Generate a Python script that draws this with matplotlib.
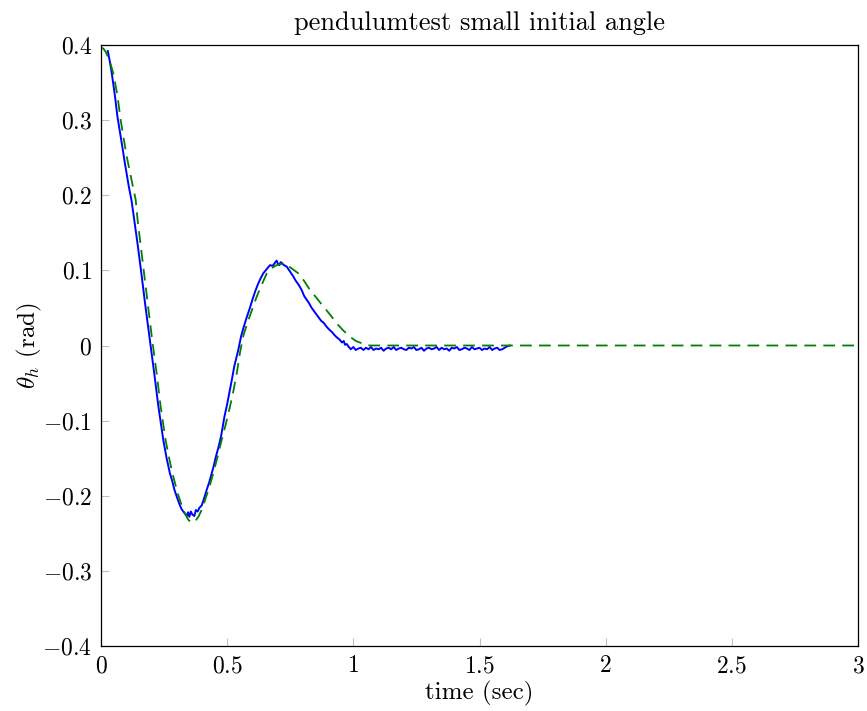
import matplotlib
matplotlib.use('Agg')
import matplotlib.pyplot as plt
from matplotlib.ticker import FuncFormatter

plt.rcParams['font.family'] = 'cmr10'
plt.rcParams['mathtext.fontset'] = 'cm'
plt.rcParams['axes.unicode_minus'] = False

# measured pendulum angle (blue)
t_meas = [0.027, 0.035, 0.042, 0.055, 0.065, 0.08, 0.095, 0.11, 0.1215, 0.132, 0.145,
          0.16, 0.175, 0.194, 0.211, 0.227, 0.247, 0.26, 0.273, 0.282, 0.291, 0.302,
          0.313, 0.32, 0.326, 0.333, 0.34, 0.345, 0.35, 0.356, 0.362, 0.37, 0.376,
          0.383, 0.39, 0.399, 0.409, 0.419, 0.429, 0.439, 0.447, 0.4545, 0.465, 0.4756,
          0.482, 0.489, 0.5, 0.511, 0.52, 0.528, 0.536, 0.544, 0.555, 0.565, 0.577,
          0.59, 0.601, 0.61, 0.62, 0.632, 0.643, 0.655, 0.67, 0.68, 0.689, 0.696,
          0.702, 0.707, 0.712, 0.716, 0.725, 0.736, 0.748, 0.762, 0.772, 0.783, 0.795,
          0.805, 0.815, 0.825, 0.835, 0.848, 0.861, 0.872, 0.883, 0.894, 0.905, 0.915,
          0.925, 0.934, 0.945, 0.955, 0.962, 0.967, 0.974, 0.982]
th_meas = [0.392, 0.378, 0.364, 0.333, 0.305, 0.274, 0.242, 0.212, 0.192, 0.167, 0.135,
           0.096, 0.055, 0.007, -0.037, -0.080, -0.126, -0.150, -0.170, -0.180, -0.192,
           -0.203, -0.213, -0.218, -0.221, -0.224, -0.227, -0.222, -0.228, -0.221, -0.225,
           -0.227, -0.219, -0.221, -0.216, -0.213, -0.203, -0.192, -0.182, -0.170, -0.160,
           -0.149, -0.136, -0.121, -0.109, -0.095, -0.078, -0.059, -0.043, -0.028, -0.017,
           -0.006, 0.012, 0.024, 0.037, 0.050, 0.062, 0.071, 0.080, 0.089, 0.096, 0.101,
           0.107, 0.106, 0.110, 0.113, 0.108, 0.107, 0.111, 0.110, 0.107, 0.105, 0.099,
           0.092, 0.086, 0.081, 0.074, 0.066, 0.061, 0.056, 0.050, 0.044, 0.038, 0.033,
           0.030, 0.025, 0.021, 0.018, 0.014, 0.011, 0.008, 0.004, 0.006, 0.001, 0.002,
           -0.002]
# settled tail, roughly 0.01 s apart
t_tail = [0.99, 1.0, 1.01, 1.02, 1.03, 1.04, 1.05, 1.06, 1.07, 1.08, 1.09, 1.1, 1.11,
          1.12, 1.13, 1.14, 1.15, 1.16, 1.17, 1.18, 1.19, 1.2, 1.21, 1.22, 1.23, 1.24,
          1.25, 1.26, 1.27, 1.28, 1.29, 1.3, 1.31, 1.32, 1.33, 1.34, 1.35, 1.36, 1.37,
          1.38, 1.39, 1.4, 1.41, 1.42, 1.43, 1.44, 1.45, 1.46, 1.47, 1.48, 1.49, 1.5,
          1.51, 1.52, 1.53, 1.54, 1.55, 1.56, 1.57, 1.58, 1.59, 1.6, 1.61, 1.62]
th_tail = [-0.005, -0.002, -0.006, -0.004, -0.003, -0.006, -0.003, -0.005, -0.002,
           -0.006, -0.004, -0.005, -0.003, -0.007, -0.004, -0.003, -0.005, -0.002,
           -0.006, -0.004, -0.003, -0.005, -0.006, -0.003, -0.004, -0.002, -0.006,
           -0.005, -0.003, -0.007, -0.004, -0.003, -0.005, -0.004, -0.002, -0.006,
           -0.003, -0.005, -0.004, -0.007, -0.003, -0.004, -0.002, -0.006, -0.005,
           -0.003, -0.004, -0.006, -0.002, -0.005, -0.004, -0.003, -0.006, -0.004,
           -0.005, -0.002, -0.006, -0.004, -0.003, -0.006, -0.005, -0.003, -0.001, 0.0]

# model prediction (green dashed)
t_model = [0.0, 0.01, 0.02, 0.035, 0.049, 0.065, 0.078, 0.1, 0.12, 0.1375, 0.145, 0.17,
           0.188, 0.203, 0.2205, 0.2364, 0.256, 0.27, 0.283, 0.304, 0.326, 0.346, 0.36,
           0.373, 0.386, 0.4, 0.412, 0.428, 0.445, 0.462, 0.478, 0.495, 0.511, 0.525,
           0.538, 0.551, 0.565, 0.58, 0.598, 0.617, 0.637, 0.657, 0.676, 0.696, 0.72,
           0.742, 0.762, 0.782, 0.805, 0.828, 0.855, 0.881, 0.908, 0.934, 0.96, 0.987,
           1.01, 1.033, 1.05, 1.065, 3.0]
th_model = [0.397, 0.395, 0.39, 0.378, 0.362, 0.333, 0.300, 0.255, 0.222, 0.194, 0.167,
            0.098, 0.048, 0.007, -0.037, -0.0815, -0.126, -0.150, -0.170, -0.197, -0.219,
            -0.232, -0.236, -0.234, -0.228, -0.218, -0.206, -0.190, -0.170, -0.148,
            -0.126, -0.104, -0.0815, -0.060, -0.037, -0.009, 0.014, 0.030, 0.047, 0.065,
            0.081, 0.096, 0.103, 0.107, 0.109, 0.106, 0.101, 0.096, 0.086, 0.074, 0.063,
            0.052, 0.041, 0.0295, 0.020, 0.0117, 0.006, 0.003, 0.001, 0.0, 0.0]

y_ticks = [-0.4, -0.3, -0.2, -0.1, 0, 0.1, 0.2, 0.3, 0.4]
x_ticks = [0, 0.5, 1, 1.5, 2, 2.5, 3]

fig = plt.figure(figsize=(8.67, 7.11), dpi=100)
ax = fig.add_axes([101 / 867, 1 - 646 / 711, 757 / 867, 601 / 711])

ax.plot(t_meas + t_tail, th_meas + th_tail, color='blue', lw=1.4)
ax.plot(t_model, th_model, color='green', lw=1.3, linestyle=(0, (6.5, 4)))

ax.set_xlim(0, 3)
ax.set_ylim(-0.4, 0.4)
ax.set_xticks(x_ticks)
ax.set_yticks(y_ticks)
fmt = FuncFormatter(lambda v, p: r'$%g$' % round(v, 2))
ax.xaxis.set_major_formatter(fmt)
ax.yaxis.set_major_formatter(fmt)
ax.tick_params(direction='in', length=6, width=0.8, color='#c0c0c0',
               labelsize=17, pad=6.5, top=False, right=False)
for s in ax.spines.values():
    s.set_linewidth(0.9)

ax.set_xlabel('time (sec)', fontsize=18, labelpad=3)
ax.set_ylabel(r'$\theta_h$ (rad)', fontsize=18, labelpad=-1.5)
ax.set_title('pendulumtest small initial angle', fontsize=19, pad=11)

fig.savefig('out.png', dpi=100)
